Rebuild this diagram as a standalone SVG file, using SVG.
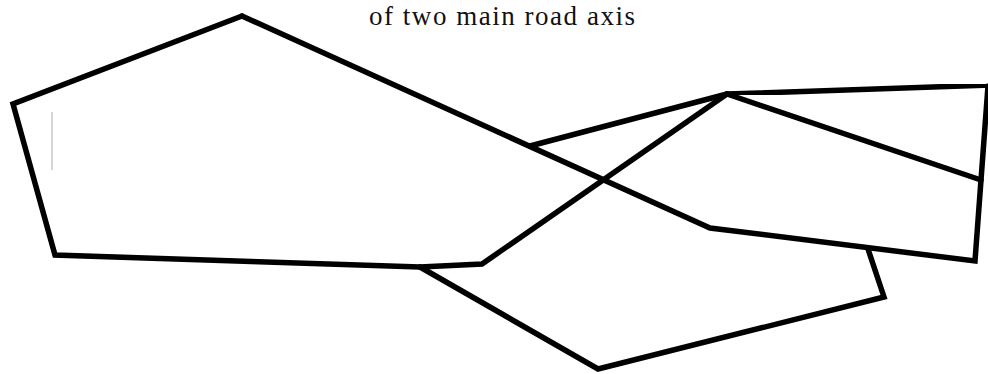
<svg xmlns="http://www.w3.org/2000/svg" width="988" height="374" viewBox="0 0 988 374">
  <defs>
    <style>
      .road { fill: none; stroke: #000; stroke-width: 5.5; stroke-linejoin: miter; stroke-linecap: round; filter: url(#soft); }
      .title { font-family: "Liberation Serif", "DejaVu Serif", serif; font-size: 27px; fill: #111; }
    </style>
    <filter id="soft" x="-5%" y="-5%" width="110%" height="110%">
      <feGaussianBlur stdDeviation="0.7"/>
    </filter>
  </defs>
  <rect width="988" height="374" fill="#fff"/>
  <text class="title" x="369" y="24.5" textLength="266" lengthAdjust="spacing">of two main road axis</text>
  <g id="roads">
    <polyline class="road" points="242,16 13,104 55,255 420,267 482,264 727,94"/>
    <polyline class="road" points="242,16 710,228 975,261 981,180 988,86"/>
    <polyline class="road" points="727,94 992,85"/>
    <polyline class="road" points="727,94 981,180"/>
    <polyline class="road" points="530,146 727,94"/>
    <polyline class="road" points="420,267 598,369 884,297 868,249"/>
  </g>
  <line x1="52" y1="112" x2="52" y2="170" stroke="#bbb" stroke-width="1.2"/>
</svg>
